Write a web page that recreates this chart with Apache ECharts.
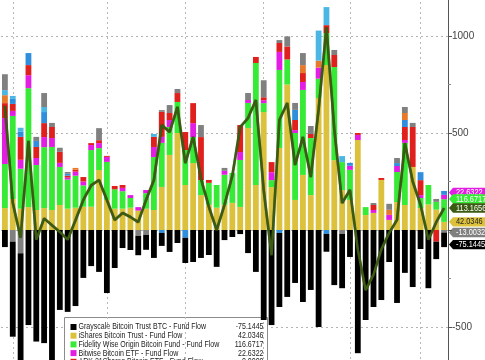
<!DOCTYPE html>
<html><head><meta charset="utf-8">
<script src="https://cdn.jsdelivr.net/npm/echarts@6/dist/echarts.min.js"></script>
<style>html,body{margin:0;padding:0;background:#fff}#c{width:485px;height:360px}</style>
</head><body><div id="c"></div>
<script>
// ---- data ----
const categories = ['d01','d02','d03','d04','d05','d06','d07','d08','d09','d10','d11','d12','d13','d14','d15','d16','d17','d18','d19','d20',
  'd21','d22','d23','d24','d25','d26','d27','d28','d29','d30','d31','d32','d33','d34','d35','d36','d37','d38','d39','d40',
  'd41','d42','d43','d44','d45','d46','d47','d48','d49','d50','d51','d52','d53','d54','d55','d56','d57'];
const ishares = [113,160,110,118,103,113,103,129,110,115,120,120,309,155,110,110,115,100,110,103,
  222,387,500,232,345,180,130,115,130,140,119,526,232,608,221,423,750,155,284,180,
  680,850,360,206,155,464,77,88,258,52,144,129,325,113,132,105,42.0346];
const fidelity = [227,428,206,613,232,314,325,196,150,165,110,292,113,196,100,90,50,0,80,273,
  227,144,160,180,134,77,113,117,155,154,242,129,629,46,36,402,129,345,438,294,
  100,165,480,144,155,0,41,0,0,0,155,320,0,52,100,40,116.6717];
const bitwise = [237,26,46,67,36,52,46,21,10,21,20,26,26,26,0,17,15,18,16,52,
  31,36,0,0,72,0,0,0,20,0,41,15,0,15,41,93,0,15,41,0,
  57,0,0,0,21,26,0,15,0,26,31,15,0,15,0,0,22.6322];
const ark = [77,36,118,52,57,72,57,57,10,10,23,10,15,5,17,15,0,0,0,52,
  129,36,46,93,103,222,15,0,0,0,139,0,31,15,52,46,67,52,46,21,
  0,41,62,0,0,10,0,26,10,0,0,67,206,77,0,-60,0];
const invesco = [0,26,26,62,31,57,0,0,10,0,0,0,0,0,0,0,0,0,0,0,
  -15,0,0,-40,0,0,0,0,0,0,0,0,0,0,0,-15,0,52,0,0,
  0,-20,0,0,15,0,0,0,0,0,15,36,0,41,0,0,20.0148];
const valkyrie = [41,0,0,0,0,0,0,0,0,9,0,0,0,0,0,0,0,0,0,0,
  0,0,0,0,0,0,0,0,0,0,0,0,0,0,0,0,0,0,41,0,
  36,0,0,0,0,0,0,0,0,26,0,36,0,0,0,0,0];
const franklin = [26,15,21,0,0,26,0,0,0,0,0,0,0,0,0,0,0,0,0,15,
  0,0,0,0,0,0,0,0,0,0,0,0,0,0,0,0,0,0,0,0,
  155,93,0,31,0,0,0,0,0,0,0,0,0,0,0,0,0];
const vaneck = [82,-60,-120,0,21,72,21,21,9,0,0,0,62,0,0,0,0,-30,-25,0,
  9,41,21,0,0,62,0,0,15,0,0,36,0,88,0,15,52,36,62,41,
  0,0,26,-20,0,0,0,10,0,31,26,31,21,0,0,15,-13.0032];
const grayscale = [-88,-490,-600,-490,-575,-583,-700,-412,-422,-392,-247,-186,-216,-325,-196,-93,-103,-100,-77,-144,
  -67,-113,-67,-130,-165,-144,-129,-190,-52,-36,-21,-119,-216,-464,-490,-382,-345,-273,-371,-309,
  -500,-92,-284,-280,-139,-635,-464,-397,-361,-165,-376,-221,-294,-98,-300,-90,-75.1445];
const netFlow = [640,140,-40,460,-50,60,25,-10,-50,50,155,230,258,155,52,88,67,41,155,258,
  541,505,634,345,480,265,120,0,130,280,531,577,670,206,-130,567,655,335,480,273,
  620,1045,520,139,207,-100,-310,-230,-100,-15,52,448,250,130,-50,40,113.1656];
const monthMarks = [1,13,23,33,44,53];
const yTicks = {min:-1000, max:1500, step:500};

const names = {
  gs:'Grayscale Bitcoin Trust BTC - Fund Flow',
  ib:'iShares Bitcoin Trust - Fund Flow',
  fi:'Fidelity Wise Origin Bitcoin Fund - Fund Flow',
  bw:'Bitwise Bitcoin ETF - Fund Flow',
  ar:'ARK 21Shares Bitcoin ETF - Fund Flow',
  iv:'Invesco Galaxy Bitcoin ETF - Fund Flow',
  fr:'Franklin Bitcoin ETF - Fund Flow',
  vk:'Valkyrie Bitcoin Fund - Fund Flow',
  ve:'VanEck Bitcoin Trust - Fund Flow',
  net:'Net Flow'
};
const col = {gs:'#000000', ib:'#dcc13c', fi:'#36ea36', bw:'#e31ee3', ar:'#e0201c', iv:'#2f8fdc',
  fr:'#4ab6e4', vk:'#e77a2a', ve:'#808080', net:'#3b5a12'};

const chart = echarts.init(document.getElementById('c'), null, {renderer:'canvas'});
function bar(key, data){
  return {name:names[key], type:'bar', stack:'all', data:data, itemStyle:{color:col[key]},
    barCategoryGap:'26%', zlevel:1, z:2, silent:true, animation:false};
}
const FONT = '"Liberation Sans",sans-serif';
chart.setOption({
  animation:false,
  grid:{left:1, right:37, top:-61, height:485, outerBoundsMode:'none', containLabel:false},
  xAxis:{type:'category', data:categories, show:false},
  yAxis:{type:'value', position:'right', min:yTicks.min, max:yTicks.max, interval:yTicks.step,
    axisLine:{show:true, lineStyle:{color:'#555', width:1}},
    axisTick:{show:true, length:4, lineStyle:{color:'#555'}},
    minorTick:{show:true, splitNumber:2, length:3, lineStyle:{color:'#888'}},
    axisLabel:{color:'#444', fontSize:10, margin:4, fontFamily:FONT,
      formatter:v=> v===0 ? '' : String(v)},
    splitLine:{show:true, lineStyle:{color:'#b3b3b3', type:[2,3], width:1}}
  },
  series:[
    {type:'line', data:categories.map(()=>null), zlevel:0, z:1, silent:true, showSymbol:false,
      markLine:{symbol:'none', silent:true, label:{show:false}, animation:false,
        lineStyle:{color:'#b8b8b8', type:[2,3], width:1},
        data: monthMarks.map(i=>({xAxis:categories[i]}))}},
    bar('ib', ishares), bar('fi', fidelity), bar('bw', bitwise), bar('ar', ark),
    bar('iv', invesco), bar('vk', valkyrie), bar('fr', franklin), bar('ve', vaneck), bar('gs', grayscale),
    {name:names.net, type:'line', data:netFlow, showSymbol:false, zlevel:1, z:5, silent:true,
      lineStyle:{color:col.net, width:2.6, shadowColor:'rgba(0,0,0,0.35)', shadowBlur:1}}
  ]
});

// right-side value tags
const tags = [
  {v:bitwise[56], c:col.bw, t:'#ffffff', gap:6.5},
  {v:fidelity[56], c:col.fi, t:'#ffffff', gap:9},
  {v:netFlow[56], c:col.net, t:'#ffffff', gap:9.5},
  {v:ishares[56], c:col.ib, t:'#222222', gap:10},
  {v:vaneck[56], c:col.ve, t:'#ffffff', gap:12},
  {v:grayscale[56], c:col.gs, t:'#ffffff', gap:0}
];
const ys = tags.map(d=>chart.convertToPixel({yAxisIndex:0}, d.v));
for (let i = tags.length-2; i>=0; i--) ys[i] = Math.min(ys[i], ys[i+1]-tags[i].gap);
const gfx = [];
tags.forEach((d,i)=>{
  gfx.push({type:'group', x:449, y:ys[i], zlevel:1, z:100, children:[
    {type:'polygon', shape:{points:[[0,0],[4,-4.7],[40,-4.7],[40,4.7],[4,4.7]]}, style:{fill:d.c}},
    {type:'text', x:7, y:0, scaleX:0.82, style:{text:d.v.toFixed(4), fill:d.t, fontSize:9, fontFamily:FONT, verticalAlign:'middle'}}
  ]});
});
// legend box
const legendRows = [
  [names.gs, col.gs, grayscale[56]],
  [names.ib, col.ib, ishares[56]],
  [names.fi, col.fi, fidelity[56]],
  [names.bw, col.bw, bitwise[56]],
  [names.ar, col.ar, ark[56]]
];
const lg = [{type:'rect', shape:{x:0, y:0, width:203, height:60}, style:{fill:'#ffffff', stroke:'#8c8c8c', lineWidth:1}}];
legendRows.forEach((r,i)=>{
  const y = 9.5 + i*8.7;
  lg.push({type:'rect', shape:{x:6, y:y-3, width:6, height:6}, style:{fill:r[1]}});
  lg.push({type:'text', x:14, y:y, scaleX:0.8, style:{text:r[0], fill:'#222', fontSize:8.8, fontFamily:FONT, verticalAlign:'middle'}});
  lg.push({type:'text', x:199, y:y, scaleX:0.8, style:{text:r[2].toFixed(4), fill:'#222', fontSize:8.8, fontFamily:FONT, verticalAlign:'middle', align:'right'}});
});
gfx.push({type:'group', x:64.5, y:317.5, zlevel:1, z:100, children:lg});
chart.setOption({graphic:gfx});
</script></body></html>
